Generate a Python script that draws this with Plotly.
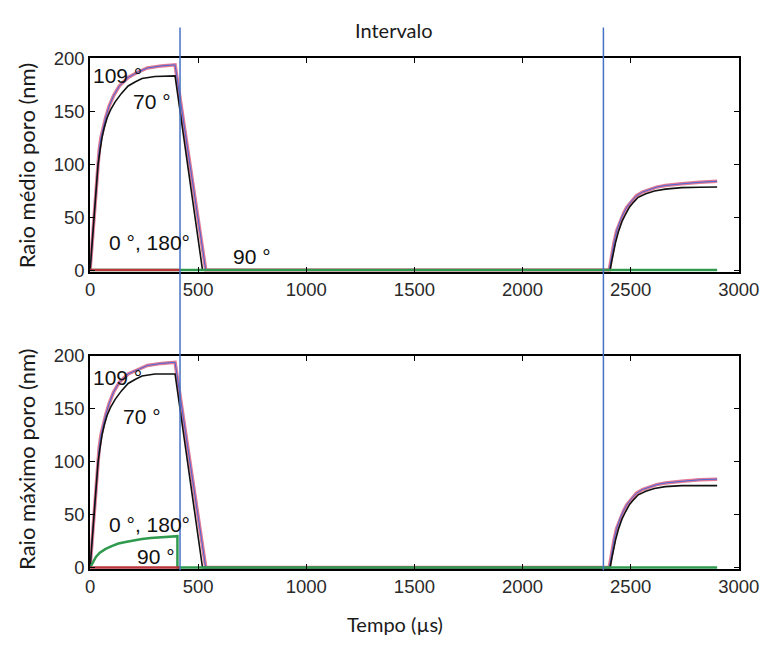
import plotly.graph_objects as go

W, H = 782, 646

# ---------------- data (time in µs, radius in nm) ----------------
# top panel: mean pore radius
t_mean_109 = [0, 4, 9, 14, 19, 26, 34, 42, 50, 60, 72, 88, 109, 135, 176, 220, 265, 330, 393, 535,
              2401, 2408, 2415, 2423, 2435, 2453, 2468, 2483, 2505, 2527, 2555, 2587, 2620, 2661, 2700, 2736, 2820, 2900]
r_mean_109 = [0, 11, 23, 38, 53, 78, 100, 113, 125, 135, 144, 155, 165, 174, 182, 187, 191, 193, 194, 0,
              0, 8, 17, 26, 37, 47.6, 54, 59.7, 65.5, 70.3, 73.8, 76.4, 78.4, 80, 81, 81.5, 83, 84]
t_mean_70 = [0, 4, 9, 14, 19, 28, 37, 46, 55, 66, 79, 96, 116, 145, 176, 210, 240, 300, 350, 393, 520,
             2405, 2412, 2420, 2430, 2443, 2460, 2477, 2495, 2515, 2535, 2570, 2610, 2660, 2736, 2820, 2900]
r_mean_70 = [0, 10, 22, 36, 50, 76, 100, 113, 125, 135, 144, 152, 159, 167, 174, 178, 181, 183, 183.5, 183.5, 0,
             0, 8, 17, 26, 36, 46, 53, 59.7, 64.5, 68.8, 72.2, 74.8, 76.5, 77.9, 78.3, 78.5]
t_mean_0_180 = [0, 2900]
r_mean_0_180 = [0, 0]
t_mean_90 = [0, 416]
r_mean_90 = [0, 0]

# bottom panel: maximum pore radius
t_max_109 = [0, 4, 9, 14, 19, 26, 34, 42, 50, 60, 72, 88, 109, 135, 176, 220, 265, 330, 393, 535,
             2401, 2408, 2415, 2423, 2435, 2453, 2468, 2483, 2505, 2527, 2555, 2587, 2620, 2661, 2700, 2736, 2820, 2900]
r_max_109 = [0, 11, 23, 38, 53, 78, 100, 113, 125, 135, 144, 155, 166, 175, 183, 187, 191, 193, 194, 0,
             0, 8, 17, 26, 37, 47.6, 54, 59.7, 65.5, 70.3, 73.8, 76.4, 78.4, 80, 81, 81.5, 83, 83.6]
t_max_70 = [0, 4, 9, 14, 19, 28, 37, 46, 55, 66, 79, 96, 116, 145, 176, 210, 240, 300, 350, 393, 520,
            2405, 2412, 2420, 2430, 2443, 2460, 2477, 2495, 2515, 2535, 2570, 2610, 2660, 2736, 2820, 2900]
r_max_70 = [0, 10, 22, 36, 50, 76, 100, 113, 125, 135, 144, 152, 159, 167, 174, 178, 181, 183, 183, 183, 0,
            0, 8, 17, 26, 36, 46, 53, 59.7, 64.5, 68.8, 72.2, 74.8, 76.5, 77.5, 77.5, 77.5]
t_max_0_180 = [0, 8, 15, 27, 45, 72, 100, 131, 170, 206, 240, 280, 340, 392, 404, 404, 2900]
r_max_0_180 = [0, 3, 5.5, 10, 14, 17.6, 20.3, 22.7, 24.5, 26, 27, 28, 29, 29.7, 29.7, 0, 0]
t_max_90 = [0, 416]
r_max_90 = [0, 0]

interval_marks = [416, 2374]
x_ticks = [0, 500, 1000, 1500, 2000, 2500, 3000]
y_ticks = [0, 50, 100, 150, 200]

PINK = "#e07a95"
BLUE = "#4a66d6"
BLACK = "#111111"
GREEN = "#2f9a4e"
RED = "#b8353a"

fig = go.Figure()

def add_panel(xa, ya, t109, r109, t70, r70, t0, r0, t90, r90):
    fig.add_trace(go.Scatter(x=t109, y=r109, mode="lines", line=dict(color=PINK, width=3.5),
                             xaxis=xa, yaxis=ya, showlegend=False, hoverinfo="skip"))
    fig.add_trace(go.Scatter(x=t109, y=r109, mode="lines", line=dict(color=BLUE, width=1),
                             xaxis=xa, yaxis=ya, showlegend=False, hoverinfo="skip"))
    fig.add_trace(go.Scatter(x=t70, y=r70, mode="lines", line=dict(color=BLACK, width=1.6),
                             xaxis=xa, yaxis=ya, showlegend=False, hoverinfo="skip"))
    fig.add_trace(go.Scatter(x=t0, y=r0, mode="lines", line=dict(color=GREEN, width=2.5),
                             xaxis=xa, yaxis=ya, showlegend=False, hoverinfo="skip"))
    fig.add_trace(go.Scatter(x=t90, y=r90, mode="lines", line=dict(color=RED, width=2.5),
                             xaxis=xa, yaxis=ya, showlegend=False, hoverinfo="skip"))

add_panel("x", "y", t_mean_109, r_mean_109, t_mean_70, r_mean_70, t_mean_0_180, r_mean_0_180, t_mean_90, r_mean_90)
add_panel("x2", "y2", t_max_109, r_max_109, t_max_70, r_max_70, t_max_0_180, r_max_0_180, t_max_90, r_max_90)

xd = [88 / W, 759 / W]
ax_common = dict(showline=True, linecolor="black", linewidth=1.5, mirror="ticks",
                 ticks="inside", ticklen=5, tickcolor="black", showgrid=False, zeroline=False,
                 tickfont=dict(family="Liberation Sans, Arial", size=18.5, color="#2a2a2a"))

fig.update_layout(
    width=W, height=H, margin=dict(l=0, r=0, t=0, b=0),
    paper_bgcolor="white", plot_bgcolor="white",
    xaxis=dict(domain=xd, range=[0, 3000], tickvals=x_ticks, anchor="y", **ax_common),
    yaxis=dict(domain=[1 - 269 / H, 1 - 49 / H], range=[-1.5, 200], tickvals=y_ticks, anchor="x", **ax_common),
    xaxis2=dict(domain=xd, range=[0, 3000], tickvals=x_ticks, anchor="y2", **ax_common),
    yaxis2=dict(domain=[1 - 576 / H, 1 - 356 / H], range=[-1.5, 200], tickvals=y_ticks, anchor="x2", **ax_common),
)

for xm in interval_marks:
    fig.add_shape(type="line", xref="x", yref="paper", x0=xm, x1=xm,
                  y0=1 - 577 / H, y1=1 - 17 / H, line=dict(color="#4472c4", width=1.5))

lab_font = dict(family="Liberation Sans, Arial", size=21, color="#111111")
labels = [
    ("x", "y", 125, 183.6, "109 °"),
    ("x", "y", 286, 159, "70 °"),
    ("x", "y", 277, 26.4, "0 °, 180°"),
    ("x", "y", 747, 12.7, "90 °"),
    ("x2", "y2", 125, 180, "109 °"),
    ("x2", "y2", 241, 142.7, "70 °"),
    ("x2", "y2", 277, 40.9, "0 °, 180°"),
    ("x2", "y2", 304, 10, "90 °"),
]
for xr, yr, xv, yv, txt in labels:
    fig.add_annotation(xref=xr, yref=yr, x=xv, y=yv, text=txt, showarrow=False,
                       xanchor="center", yanchor="middle", font=lab_font)

title_font = dict(family="Lato, Open Sans", size=20, color="#1a1a1a")
ytitle_font = dict(family="Lato, Open Sans", size=22, color="#1a1a1a")
fig.add_annotation(xref="paper", yref="paper", x=402 / W, y=1 - 20 / H, text="Intervalo",
                   showarrow=False, xanchor="center", yanchor="middle", font=title_font)
fig.add_annotation(xref="paper", yref="paper", x=403 / W, y=1 - 633 / H, text="Tempo (µs)",
                   showarrow=False, xanchor="center", yanchor="middle", font=title_font)
fig.add_annotation(xref="paper", yref="paper", x=22 / W, y=1 - 160 / H, text="Raio médio poro (nm)",
                   showarrow=False, xanchor="center", yanchor="middle", textangle=-90, font=ytitle_font)
fig.add_annotation(xref="paper", yref="paper", x=22 / W, y=1 - 463 / H, text="Raio máximo poro (nm)",
                   showarrow=False, xanchor="center", yanchor="middle", textangle=-90, font=ytitle_font)

fig.write_html("out.html")
